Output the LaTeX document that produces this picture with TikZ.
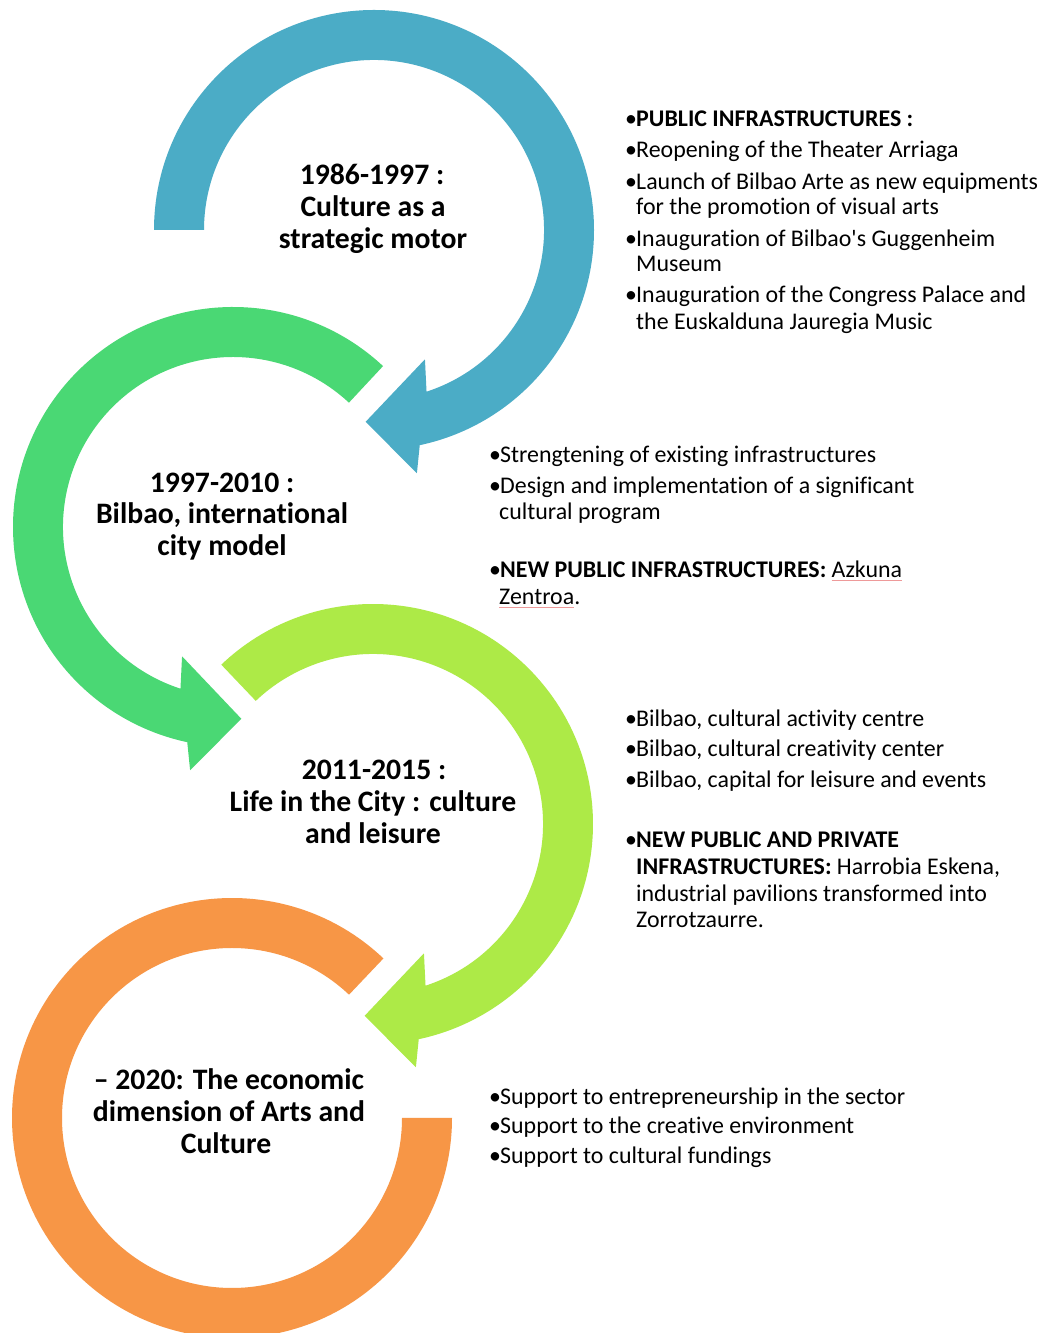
\documentclass[tikz,border=0pt]{standalone}
\usepackage{fontspec}
\newfontfamily\calibri{Carlito}[Ligatures=CommonOff]
\definecolor{cblue}{HTML}{4BACC6}
\definecolor{cgreen}{HTML}{4AD874}
\definecolor{clime}{HTML}{ADEA47}
\definecolor{corange}{HTML}{F79646}
\definecolor{spell}{HTML}{EE9A9A}
\newcommand\bul{\makebox[11pt][l]{•}}
\newcommand\spellmark[1]{\setbox0\hbox{#1}\rlap{\color{spell}\rule[-2.5pt]{\wd0}{0.9pt}}\box0}
\begin{document}
\begin{tikzpicture}[x=1pt,y=1pt,
  body/.style={anchor=base west, inner sep=0pt, font=\calibri\fontsize{23.9}{26}\selectfont},
  ttl/.style={anchor=base, inner sep=0pt, font=\calibri\fontsize{29.7}{32}\selectfont\bfseries},
]
\clip (0,0) rectangle (1045,1333);
\fill[white] (0,0) rectangle (1045,1333);

% blue circular arrow
\begin{scope}[shift={(374,1103)}]
\fill[cblue] (180:220) arc[start angle=180,end angle=-78,radius=220]
  -- (-80:247) -- (-92.5:192) -- (-68.5:139) -- (-72:170)
  arc[start angle=-72,end angle=180,radius=170] -- cycle;
\end{scope}
% green circular arrow
\begin{scope}[shift={(233,806)}]
\fill[cgreen] (47:220) arc[start angle=47,end angle=258,radius=220]
  -- (260:247) -- (272.5:192) -- (248.5:139) -- (252:170)
  arc[start angle=252,end angle=47,radius=170] -- cycle;
\end{scope}
% lime circular arrow
\begin{scope}[shift={(373,509)}]
\fill[clime] (133.6:220) arc[start angle=133.6,end angle=-78,radius=220]
  -- (-80:247) -- (-92.5:192) -- (-68.5:139) -- (-72:170)
  arc[start angle=-72,end angle=133.6,radius=170] -- cycle;
\end{scope}
% orange ring
\begin{scope}[shift={(232,215)}]
\fill[corange] (46.5:220) arc[start angle=46.5,end angle=360,radius=220]
  -- (0:170) arc[start angle=360,end angle=46.5,radius=170] -- cycle;
\end{scope}

% titles
\node[ttl] (t1a) at (372,1148) {1986-1997 :};
\node[ttl] (t1b) at (373,1116) {Culture as a};
\node[ttl] (t1c) at (373,1084) {strategic motor};

\node[ttl] (t2a) at (222,840) {1997-2010 :};
\node[ttl] (t2b) at (222,809) {Bilbao, international};
\node[ttl] (t2c) at (222,777) {city model};

\node[ttl] (t3a) at (374,553) {2011-2015 :};
\node[ttl] (t3b) at (373,521) {Life in the City : culture};
\node[ttl] (t3c) at (373,489) {and leisure};

\node[ttl] (t4a) at (229,243) {– 2020: The economic};
\node[ttl] (t4b) at (229,211) {dimension of Arts and};
\node[ttl] (t4c) at (226,179) {Culture};

% block 1
\node[body] (a1) at (625,1206) {\bul\textbf{PUBLIC INFRASTRUCTURES :}};
\node[body] (a2) at (625,1175) {\bul Reopening of the Theater Arriaga};
\node[body] (a3) at (625,1143) {\bul Launch of Bilbao Arte as new equipments};
\node[body] (a3b) at (636,1118) {for the promotion of visual arts};
\node[body] (a4) at (625,1086) {\bul Inauguration of Bilbao's Guggenheim};
\node[body] (a4b) at (636,1061) {Museum};
\node[body] (a5) at (625,1030) {\bul Inauguration of the Congress Palace and};
\node[body] (a5b) at (636,1003) {the Euskalduna Jauregia Music};

% block 2
\node[body] (b1) at (489,870) {\bul Strengtening of existing infrastructures};
\node[body] (b2) at (489,839) {\bul Design and implementation of a significant};
\node[body] (b2b) at (499,813) {cultural program};
\node[body] (b3) at (489,755) {\bul\textbf{NEW PUBLIC INFRASTRUCTURES:} \spellmark{Azkuna}};
\node[body] (b3b) at (499,728) {\spellmark{Zentroa}.};

% block 3
\node[body] (c1) at (625,606) {\bul Bilbao, cultural activity centre};
\node[body] (c2) at (625,576) {\bul Bilbao, cultural creativity center};
\node[body] (c3) at (625,545) {\bul Bilbao, capital for leisure and events};
\node[body] (c4) at (625,485) {\bul\textbf{NEW PUBLIC AND PRIVATE}};
\node[body] (c4b) at (636,458) {\textbf{INFRASTRUCTURES:} Harrobia Eskena,};
\node[body] (c4c) at (636,431) {industrial pavilions transformed into};
\node[body] (c4d) at (636,405) {Zorrotzaurre.};

% block 4
\node[body] (d1) at (489,228) {\bul Support to entrepreneurship in the sector};
\node[body] (d2) at (489,199) {\bul Support to the creative environment};
\node[body] (d3) at (489,169) {\bul Support to cultural fundings};
\end{tikzpicture}
\end{document}
